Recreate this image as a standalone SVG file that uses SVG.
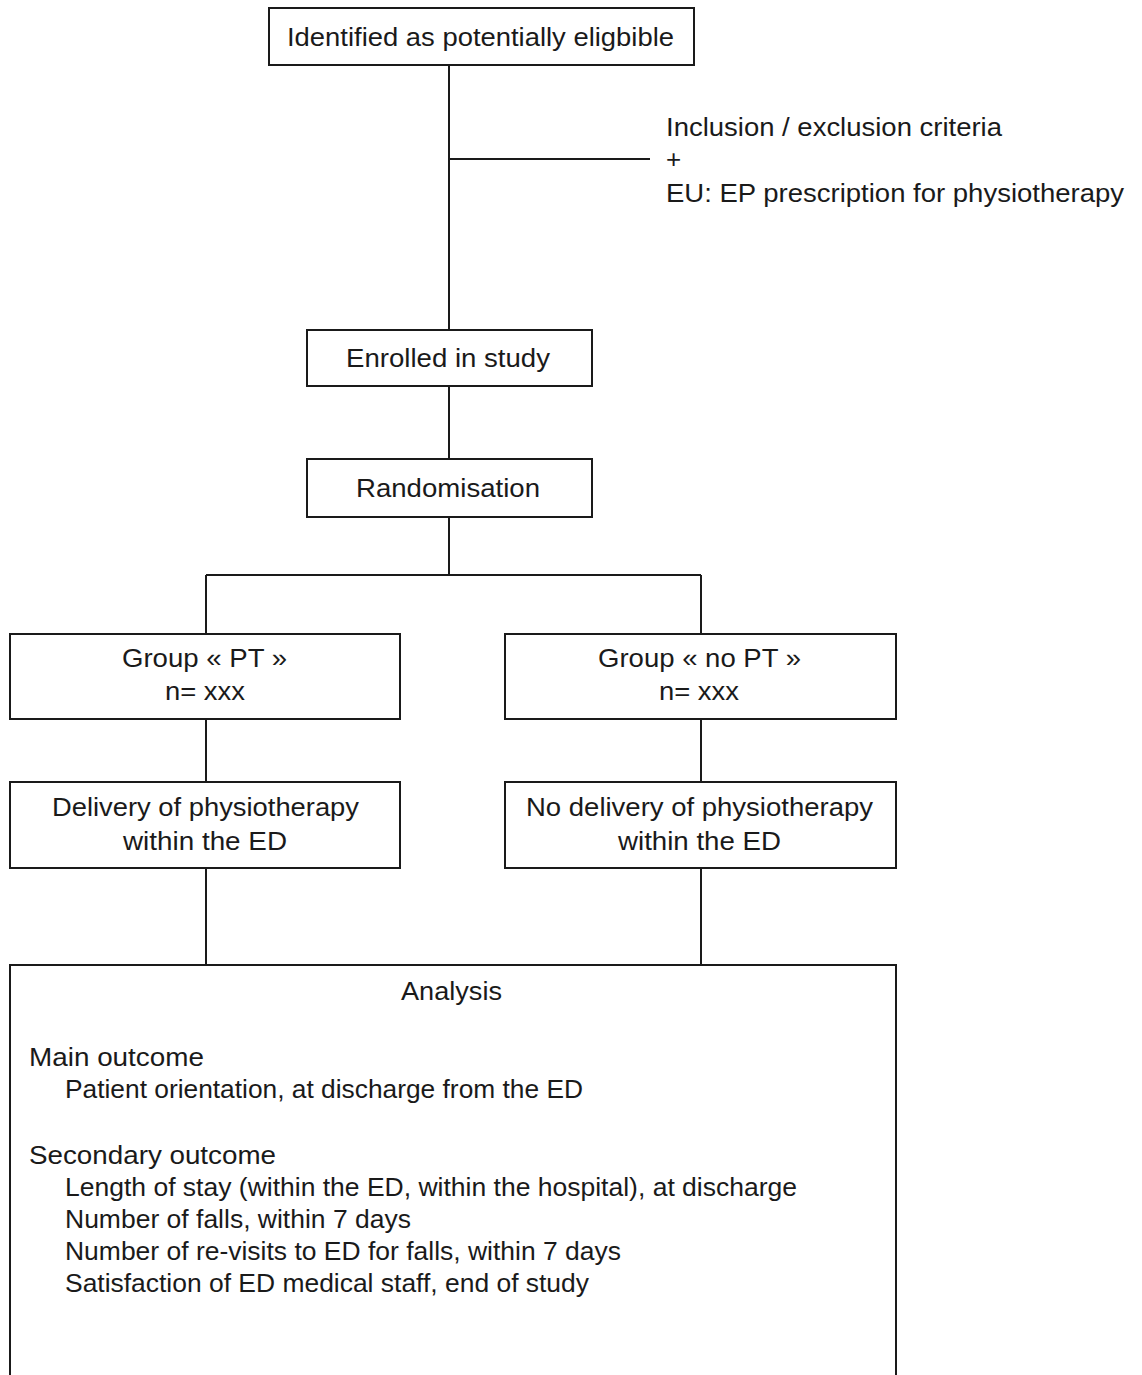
<svg xmlns="http://www.w3.org/2000/svg" width="1142" height="1375" viewBox="0 0 1142 1375">
<style>
.box{fill:#fff;stroke:#1a1a1a;stroke-width:2}
.ln{fill:none;stroke:#1a1a1a;stroke-width:2}
text{font-family:"Liberation Sans",Arial,sans-serif;font-size:26px;fill:#1a1a1a}
.c{text-anchor:middle}
</style>
<rect width="1142" height="1375" fill="#fff"/>
<g id="connectors">
<path class="ln" d="M449 65V330M449 159H650M449 386V459M449 517V575M206 575H701M206 575V634M701 575V634M206 719V782M701 719V782M206 868V965M701 868V965"/>
</g>
<g id="identified">
<rect class="box" x="269" y="8" width="425" height="57"/>
<text x="287" y="46" textLength="387" lengthAdjust="spacingAndGlyphs">Identified as potentially eligbible</text>
</g>
<g id="criteria">
<text x="666" y="136" textLength="336" lengthAdjust="spacingAndGlyphs">Inclusion / exclusion criteria</text>
<text x="666" y="168">+</text>
<text x="666" y="202" textLength="458" lengthAdjust="spacingAndGlyphs">EU: EP prescription for physiotherapy</text>
</g>
<g id="enrolled">
<rect class="box" x="307" y="330" width="285" height="56"/>
<text x="346" y="367" textLength="204" lengthAdjust="spacingAndGlyphs">Enrolled in study</text>
</g>
<g id="randomisation">
<rect class="box" x="307" y="459" width="285" height="58"/>
<text x="356" y="497" textLength="184" lengthAdjust="spacingAndGlyphs">Randomisation</text>
</g>
<g id="group-pt">
<rect class="box" x="10" y="634" width="390" height="85"/>
<text x="122" y="667" textLength="165" lengthAdjust="spacingAndGlyphs">Group « PT »</text>
<text x="165" y="700" textLength="80" lengthAdjust="spacingAndGlyphs">n= xxx</text>
</g>
<g id="group-nopt">
<rect class="box" x="505" y="634" width="391" height="85"/>
<text x="598" y="667" textLength="203" lengthAdjust="spacingAndGlyphs">Group « no PT »</text>
<text x="659" y="700" textLength="80" lengthAdjust="spacingAndGlyphs">n= xxx</text>
</g>
<g id="delivery-pt">
<rect class="box" x="10" y="782" width="390" height="86"/>
<text x="52" y="816" textLength="307" lengthAdjust="spacingAndGlyphs">Delivery of physiotherapy</text>
<text x="123" y="850" textLength="164" lengthAdjust="spacingAndGlyphs">within the ED</text>
</g>
<g id="delivery-nopt">
<rect class="box" x="505" y="782" width="391" height="86"/>
<text x="526" y="816" textLength="347" lengthAdjust="spacingAndGlyphs">No delivery of physiotherapy</text>
<text x="618" y="850" textLength="163" lengthAdjust="spacingAndGlyphs">within the ED</text>
</g>
<g id="analysis">
<rect class="box" x="10" y="965" width="886" height="420"/>
<text x="401" y="1000" textLength="101" lengthAdjust="spacingAndGlyphs">Analysis</text>
<text x="29" y="1066" textLength="175" lengthAdjust="spacingAndGlyphs">Main outcome</text>
<text x="65" y="1098" textLength="518" lengthAdjust="spacingAndGlyphs">Patient orientation, at discharge from the ED</text>
<text x="29" y="1164" textLength="247" lengthAdjust="spacingAndGlyphs">Secondary outcome</text>
<text x="65" y="1196" textLength="732" lengthAdjust="spacingAndGlyphs">Length of stay (within the ED, within the hospital), at discharge</text>
<text x="65" y="1228" textLength="346" lengthAdjust="spacingAndGlyphs">Number of falls, within 7 days</text>
<text x="65" y="1260" textLength="556" lengthAdjust="spacingAndGlyphs">Number of re-visits to ED for falls, within 7 days</text>
<text x="65" y="1292" textLength="524" lengthAdjust="spacingAndGlyphs">Satisfaction of ED medical staff, end of study</text>
</g>
</svg>
